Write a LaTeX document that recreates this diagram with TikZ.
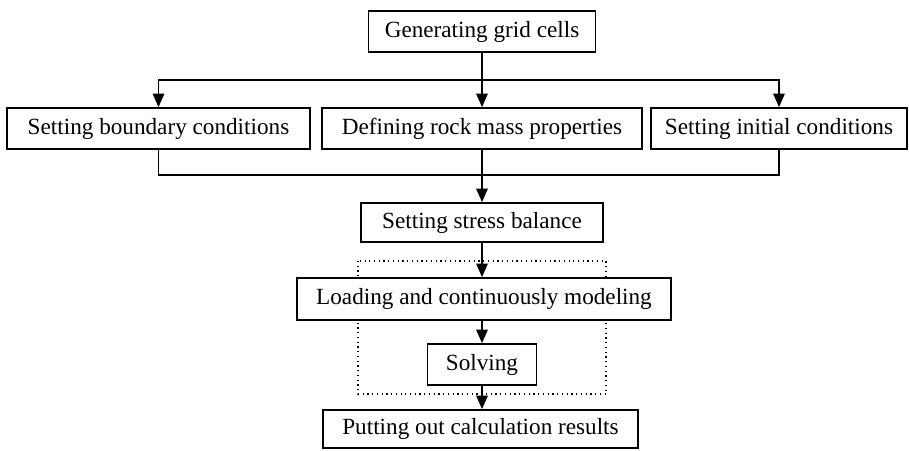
\documentclass[tikz,border=0pt]{standalone}
\usepackage{fontspec}
\setmainfont{Liberation Serif}
\usetikzlibrary{arrows.meta}

\begin{document}
\begin{tikzpicture}[x=0.02cm, y=-0.02cm,
		box/.style={draw, line width=1pt, fill=white, inner sep=0pt, minimum height=0.82cm, text height=0.31cm, text depth=0.08cm, font=\fontsize{13.2}{15}\selectfont},
		arr/.style={-{Triangle[width=0.23cm, length=0.27cm]}, line width=0.85pt},
		link/.style={line width=0.85pt}]
		\useasboundingbox (0,0) rectangle (909,450);
		\newcommand{\xm}{482}
		% loop of the calculation
		\draw[dotted, line width=0.7pt] (358,261) rectangle (606,394);
		
		\node[box, minimum width=4.54cm] (gen) at (\xm,31.5) {Generating grid cells};
		\node[box, minimum width=6.06cm] (bound) at (158.5,128.5) {Setting boundary conditions};
		\node[box, minimum width=6.40cm] (rock) at (\xm,128.5) {Defining rock mass properties};
		\node[box, minimum width=5.12cm] (init) at (779,128.5) {Setting initial conditions};
		\node[box, minimum width=4.84cm, minimum height=0.78cm] (stress) at (\xm,222.5) {Setting stress balance};
		\node[box, minimum width=7.48cm, minimum height=0.84cm] (load) at (484,299) {Loading and continuously modeling};
		\node[box, minimum width=2.18cm] (solve) at (\xm,364.5) {Solving};
		\node[box, minimum width=6.30cm, minimum height=0.76cm] (out) at (480.5,429) {Putting out calculation results};
		
		\coordinate (top) at (\xm,80);
		\coordinate (merge) at (\xm,175);
		
		\draw[arr] (gen) -- (rock);
		\draw[arr] (top) -| (bound.north);
		\draw[arr] (top) -| (init.north);
		\draw[link] (bound.south) |- (merge) -| (init.south);
		\draw[arr] (rock.south) -- (stress.north);
		\draw[arr] (stress.south) -- (stress.south |- load.north);
		\draw[arr] (stress.south |- load.south) -- (solve.north);
		\draw[arr] (solve.south) -- (solve.south |- out.north);
	\end{tikzpicture}
\end{document}
